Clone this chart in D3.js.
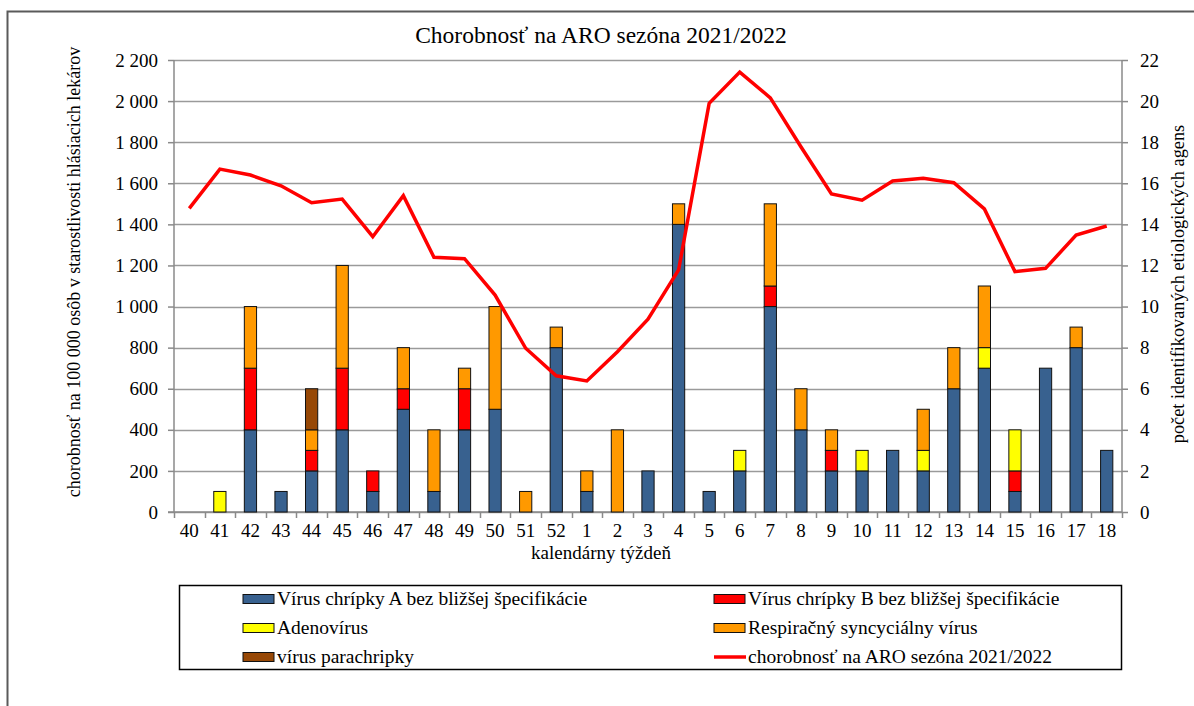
<!DOCTYPE html>
<html>
<head>
<meta charset="utf-8">
<script src="https://cdn.jsdelivr.net/npm/d3@7"></script>
<style>
  body { margin: 0; background: #fff; }
  svg text { font-family: "Liberation Serif", "Times New Roman", "DejaVu Serif", serif; fill: #000; }
</style>
</head>
<body>
<div id="chart"></div>
<script>
// calendar weeks 40/2021 .. 18/2022
var WEEKS = ['40','41','42','43','44','45','46','47','48','49','50','51','52',
             '1','2','3','4','5','6','7','8','9','10','11','12','13','14','15','16','17','18'];

// number of identified agents per week (right axis)
var FLU_A    = [0,0,4,1,2,4,1,5,1,4,5,0,8, 1,0,2,14,1,2,10,4,2,2,3,2,6,7,1,7,8,3];
var FLU_B    = [0,0,3,0,1,3,1,1,0,2,0,0,0, 0,0,0,0,0,0,1,0,1,0,0,0,0,0,1,0,0,0];
var ADENO    = [0,1,0,0,0,0,0,0,0,0,0,0,0, 0,0,0,0,0,1,0,0,0,1,0,1,0,1,2,0,0,0];
var RSV      = [0,0,3,0,1,5,0,2,3,1,5,1,1, 1,4,0,1,0,0,4,2,1,0,0,2,2,3,0,0,1,0];
var PARA     = [0,0,0,0,2,0,0,0,0,0,0,0,0, 0,0,0,0,0,0,0,0,0,0,0,0,0,0,0,0,0,0];

// morbidity per 100 000 (left axis)
var MORBIDITY = [1478,1669,1640,1588,1505,1523,1340,1540,1240,1233,1056,797,663,
                 638,780,938,1178,1989,2141,2016,1778,1548,1518,1611,1624,1603,1475,1170,1186,1348,1392];

var LEFT_TICKS = [0,200,400,600,800,1000,1200,1400,1600,1800,2000,2200];
var RIGHT_TICKS = [0,2,4,6,8,10,12,14,16,18,20,22];

var SERIES = [
    {key: 'a',     name: 'Vírus chrípky A bez bližšej špecifikácie', color: '#38618f', values: FLU_A},
    {key: 'b',     name: 'Vírus chrípky B bez bližšej špecifikácie', color: '#ff0000', values: FLU_B},
    {key: 'adeno', name: 'Adenovírus',                                color: '#ffff00', values: ADENO},
    {key: 'rsv',   name: 'Respiračný syncyciálny vírus',              color: '#ff9900', values: RSV},
    {key: 'para',  name: 'vírus parachripky',                         color: '#974806', values: PARA}
];
var LINE_NAME = 'chorobnosť na ARO sezóna 2021/2022';

var SERIF = '"Liberation Serif", "Times New Roman", "DejaVu Serif", serif';

var WIDTH = 1194, HEIGHT = 706;
var margin = {top: 60, left: 174, right: 72, bottom: 194};
var W = WIDTH - margin.left - margin.right;
var H = HEIGHT - margin.top - margin.bottom;

var rows = WEEKS.map(function(w, i) {
    var r = {week: w};
    SERIES.forEach(function(s) { r[s.key] = s.values[i]; });
    return r;
});
var stack = d3.stack().keys(SERIES.map(function(s) { return s.key; }))(rows);

var sx = d3.scaleBand().domain(WEEKS).range([0, W]).paddingInner(0.6).paddingOuter(0.3);
var sb = d3.scaleBand().domain(WEEKS).range([0, W]);
var yl = d3.scaleLinear().domain([0, 2200]).range([H, 0]);
var yr = d3.scaleLinear().domain([0, 22]).range([H, 0]);

var svg = d3.select('#chart').append('svg')
    .attr('width', WIDTH)
    .attr('height', HEIGHT)
    .style('font-family', SERIF);

// outer frame (runs off the right and bottom edge)
svg.append('rect')
    .attr('x', 7.5).attr('y', 11.5)
    .attr('width', WIDTH + 20).attr('height', HEIGHT + 20)
    .attr('fill', 'none').attr('stroke', '#5a5a5a').attr('stroke-width', 2);

svg.append('text')
    .attr('x', 601).attr('y', 43)
    .attr('text-anchor', 'middle')
    .style('font-family', SERIF)
    .style('font-size', '23.5px')
    .text('Chorobnosť na ARO sezóna 2021/2022');

var g = svg.append('g')
    .attr('transform', 'translate(' + margin.left + ',' + margin.top + ')');

// gridlines
g.append('g').selectAll('line').data(LEFT_TICKS).enter().append('line')
    .attr('x1', 0).attr('x2', W)
    .attr('y1', function(d) { return Math.round(yl(d)) + 0.5; })
    .attr('y2', function(d) { return Math.round(yl(d)) + 0.5; })
    .attr('stroke', '#9a9a9a').attr('stroke-width', 1.5);

var ayl = d3.axisLeft(yl).tickValues(LEFT_TICKS).tickSize(6).tickPadding(10)
    .tickFormat(function(d) { return d3.format(',')(d).replace(',', ' '); });
var ayr = d3.axisRight(yr).tickValues(RIGHT_TICKS).tickSize(6).tickPadding(12);
var ax = d3.axisBottom(sb).tickSize(0).tickPadding(12);

var gyl = g.append('g').call(ayl);
var gyr = g.append('g').attr('transform', 'translate(' + W + ',0)').call(ayr);
var gx = g.append('g').attr('transform', 'translate(0,' + H + ')').call(ax);

// band boundary ticks on x axis
gx.append('g').selectAll('line').data(WEEKS.concat(['end'])).enter().append('line')
    .attr('x1', function(d, i) { return Math.round(i * sb.step()) + 0.5; })
    .attr('x2', function(d, i) { return Math.round(i * sb.step()) + 0.5; })
    .attr('y1', 0).attr('y2', 6)
    .attr('stroke', '#8a8a8a').attr('stroke-width', 1.5);

[gyl, gyr, gx].forEach(function(a) {
    a.attr('font-family', null);
    a.select('.domain').attr('stroke', '#8a8a8a').attr('stroke-width', 1.5);
    a.selectAll('.tick line').attr('stroke', '#8a8a8a').attr('stroke-width', 1.5);
    a.selectAll('.tick text')
        .style('font-family', SERIF)
        .style('font-size', '19px').attr('fill', '#000');
});
gyr.select('.domain').attr('d', 'M0,0V' + H);
gyl.select('.domain').attr('d', 'M0,0V' + H);
gx.select('.domain').attr('d', 'M-6,0H' + W);

// stacked bars
var layers = g.append('g').selectAll('g').data(stack).enter().append('g')
    .attr('fill', function(d, i) { return SERIES[i].color; });
layers.selectAll('rect')
    .data(function(d) { return d.filter(function(p) { return p[1] > p[0]; }); })
    .enter().append('rect')
    .attr('x', function(d) { return sx(d.data.week); })
    .attr('width', sx.bandwidth())
    .attr('y', function(d) { return yr(d[1]); })
    .attr('height', function(d) { return yr(d[0]) - yr(d[1]); })
    .attr('stroke', '#111').attr('stroke-width', 1);

// morbidity line
var line = d3.line()
    .x(function(d, i) { return sb(WEEKS[i]) + sb.bandwidth() / 2; })
    .y(function(d) { return yl(d); });
g.append('path')
    .datum(MORBIDITY)
    .attr('d', line)
    .attr('fill', 'none')
    .attr('stroke', '#ff0000')
    .attr('stroke-width', 3.5)
    .attr('stroke-linejoin', 'miter');

// axis titles
svg.append('text')
    .attr('transform', 'translate(80,272) rotate(-90)')
    .attr('text-anchor', 'middle')
    .style('font-family', SERIF)
    .style('font-size', '18px')
    .text('chorobnosť na 100 000 osôb v starostlivosti hlásiacich lekárov');
svg.append('text')
    .attr('transform', 'translate(1184,284) rotate(-90)')
    .attr('text-anchor', 'middle')
    .style('font-family', SERIF)
    .style('font-size', '18.3px')
    .text('počet identifikovaných etiologických agens');
svg.append('text')
    .attr('x', 601).attr('y', 559)
    .attr('text-anchor', 'middle')
    .style('font-family', SERIF)
    .style('font-size', '19px')
    .text('kalendárny týždeň');

// legend
svg.append('rect')
    .attr('x', 179.5).attr('y', 585.5).attr('width', 942).attr('height', 84)
    .attr('fill', '#fff').attr('stroke', '#000').attr('stroke-width', 1.5);

var LEGEND = [
    {name: SERIES[0].name, color: SERIES[0].color, col: 0, row: 0},
    {name: SERIES[1].name, color: SERIES[1].color, col: 1, row: 0},
    {name: SERIES[2].name, color: SERIES[2].color, col: 0, row: 1},
    {name: SERIES[3].name, color: SERIES[3].color, col: 1, row: 1},
    {name: SERIES[4].name, color: SERIES[4].color, col: 0, row: 2},
    {name: LINE_NAME, color: '#ff0000', col: 1, row: 2, line: true}
];
var COL_X = [243, 714];
var ROW_Y = [599, 628, 657];

var li = svg.append('g').selectAll('g').data(LEGEND).enter().append('g')
    .attr('transform', function(d) { return 'translate(' + COL_X[d.col] + ',' + ROW_Y[d.row] + ')'; });
li.filter(function(d) { return !d.line; }).append('rect')
    .attr('x', 0).attr('y', -4.5).attr('width', 31).attr('height', 9)
    .attr('fill', function(d) { return d.color; })
    .attr('stroke', '#111').attr('stroke-width', 1);
li.filter(function(d) { return d.line; }).append('line')
    .attr('x1', 0).attr('x2', 32).attr('y1', 0).attr('y2', 0)
    .attr('stroke', '#ff0000').attr('stroke-width', 3.5);
li.append('text')
    .attr('x', 34).attr('y', 6)
    .style('font-family', SERIF)
    .style('font-size', '19.5px')
    .text(function(d) { return d.name; });
</script>
</body>
</html>
